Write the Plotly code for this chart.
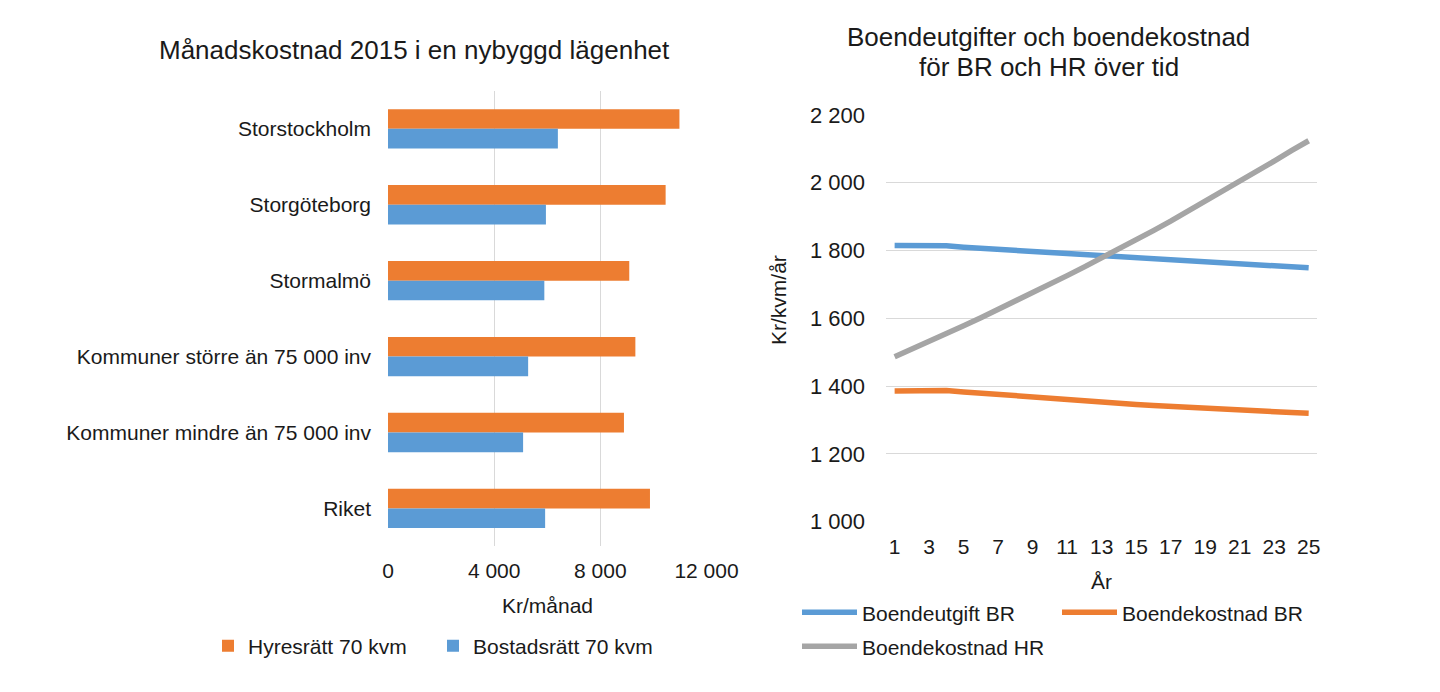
import plotly.graph_objects as go

# ---------------- data ----------------
regions = [
    "Storstockholm",
    "Storgöteborg",
    "Stormalmö",
    "Kommuner större än 75 000 inv",
    "Kommuner mindre än 75 000 inv",
    "Riket",
]
hyresratt_70 = [10980, 10460, 9090, 9320, 8890, 9870]
bostadsratt_70 = [6400, 5950, 5890, 5280, 5090, 5920]
bar_ticks = [0, 4000, 8000, 12000]

years = [1, 2, 3, 4, 5, 6, 7, 8, 9, 10, 11, 12, 13, 14, 15, 16, 17, 18, 19, 20, 21, 22, 23, 24, 25]
year_ticks = [1, 3, 5, 7, 9, 11, 13, 15, 17, 19, 21, 23, 25]
boendeutgift_br = [1815, 1815, 1818, 1814, 1810, 1806, 1803, 1800, 1797, 1794, 1791, 1788, 1785,
                   1782, 1779, 1776, 1773, 1770, 1767, 1764, 1761, 1758, 1755, 1752, 1749]
boendekostnad_br = [1386, 1386, 1390, 1387, 1383, 1379, 1375, 1371, 1367, 1363, 1359, 1356, 1352,
                    1349, 1346, 1343, 1340, 1337, 1334, 1331, 1329, 1327, 1325, 1322, 1320]
boendekostnad_hr = [1487, 1509, 1532, 1555, 1578, 1602, 1626, 1650, 1675, 1700, 1726, 1752, 1778,
                    1805, 1832, 1859, 1887, 1916, 1945, 1974, 2003, 2033, 2064, 2095, 2124]

ORANGE = "#ED7D31"
BLUE = "#5B9BD5"
GRAY = "#A5A5A5"
GRID = "#d9d9d9"
TXT = "#1a1a1a"
FONT = "Liberation Sans, Arial, sans-serif"

W, H = 1440, 692
OFF = 8  # page body margin offset


def px_x(p):
    return (p - OFF) / W


def px_y(p):
    return 1 - (p - OFF) / H


fig = go.Figure()

# ---------------- left: bars ----------------
fig.add_trace(go.Bar(
    name="Hyresrätt 70 kvm", orientation="h", x=hyresratt_70, y=regions,
    marker=dict(color=ORANGE, line=dict(width=0)), xaxis="x", yaxis="y", legend="legend",
))
fig.add_trace(go.Bar(
    name="Bostadsrätt 70 kvm", orientation="h", x=bostadsratt_70, y=regions,
    marker=dict(color=BLUE, line=dict(width=0)), xaxis="x", yaxis="y", legend="legend4",
))

# ---------------- right: lines ----------------
fig.add_trace(go.Scatter(
    name="Boendeutgift BR", x=years, y=boendeutgift_br, mode="lines",
    line=dict(color=BLUE, width=5.5), xaxis="x2", yaxis="y2", legend="legend2",
))
fig.add_trace(go.Scatter(
    name="Boendekostnad BR", x=years, y=boendekostnad_br, mode="lines",
    line=dict(color=ORANGE, width=5.5), xaxis="x2", yaxis="y2", legend="legend3",
))
fig.add_trace(go.Scatter(
    name="Boendekostnad HR", x=years, y=boendekostnad_hr, mode="lines",
    line=dict(color=GRAY, width=5.5), xaxis="x2", yaxis="y2", legend="legend5",
))

leg_common = dict(orientation="h", xanchor="left", yanchor="middle",
                  font=dict(size=21, color=TXT, family=FONT),
                  bgcolor="rgba(0,0,0,0)", borderwidth=0)
line_leg = dict(leg_common, itemwidth=55)
LINE_TXT_OFF = 65

fig.update_layout(
    width=W, height=H,
    margin=dict(l=0, r=0, t=0, b=0, autoexpand=False),
    paper_bgcolor="white", plot_bgcolor="white",
    separators=", ",
    font=dict(family=FONT, size=21, color=TXT),
    barmode="group", bargap=0.482, bargroupgap=0,
    showlegend=True,
    xaxis=dict(
        domain=[px_x(388), px_x(706.5)], range=[0, 12000], tickvals=bar_ticks,
        tickformat=",", showgrid=True, gridcolor=GRID, gridwidth=1.3,
        zeroline=False, showline=False, ticks="", ticklabelstandoff=10,
        tickfont=dict(size=21), anchor="y", automargin=False,
    ),
    yaxis=dict(
        domain=[px_y(546.4), px_y(90.9)], type="category", autorange="reversed",
        showgrid=False, zeroline=False, showline=False, ticks="",
        ticklabelstandoff=16, tickfont=dict(size=21), anchor="x", automargin=False,
    ),
    xaxis2=dict(
        domain=[px_x(886), px_x(1317.3)], range=[0.5, 25.5], tickvals=year_ticks,
        showgrid=False, zeroline=False, showline=False, ticks="",
        ticklabelstandoff=10, tickfont=dict(size=21), anchor="y2", automargin=False,
    ),
    yaxis2=dict(
        domain=[px_y(521.7), px_y(115)], range=[1000, 2200], dtick=200, tick0=1000,
        tickformat=",", showgrid=True, gridcolor=GRID, gridwidth=1.3,
        zeroline=False, showline=False, ticks="", ticklabelstandoff=20,
        tickfont=dict(size=22), anchor="x2", automargin=False,
    ),
    legend=dict(leg_common, x=px_x(248 - 40), y=px_y(646)),
    legend4=dict(leg_common, x=px_x(473 - 40), y=px_y(646)),
    legend2=dict(line_leg, x=px_x(862 - LINE_TXT_OFF), y=px_y(612.7)),
    legend3=dict(line_leg, x=px_x(1122 - LINE_TXT_OFF), y=px_y(612.7)),
    legend5=dict(line_leg, x=px_x(862 - LINE_TXT_OFF), y=px_y(646.7)),
)

annotations = [
    dict(text="Månadskostnad 2015 i en nybyggd lägenhet", x=px_x(414), y=px_y(50),
         font=dict(size=26)),
    dict(text="Boendeutgifter och boendekostnad", x=px_x(1048.5), y=px_y(37),
         font=dict(size=26)),
    dict(text="för BR och HR över tid", x=px_x(1048.5), y=px_y(67),
         font=dict(size=26)),
    dict(text="Kr/månad", x=px_x(547), y=px_y(605), font=dict(size=21)),
    dict(text="År", x=px_x(1101.5), y=px_y(581.7), font=dict(size=21)),
    dict(text="Kr/kvm/år", x=px_x(778.5), y=px_y(300.5), font=dict(size=21), textangle=-90),
]
for a in annotations:
    a.update(xref="paper", yref="paper", xanchor="center", yanchor="middle",
             showarrow=False)
    a["font"].update(family=FONT, color=TXT)
fig.update_layout(annotations=annotations)

fig.write_html("out.html")
